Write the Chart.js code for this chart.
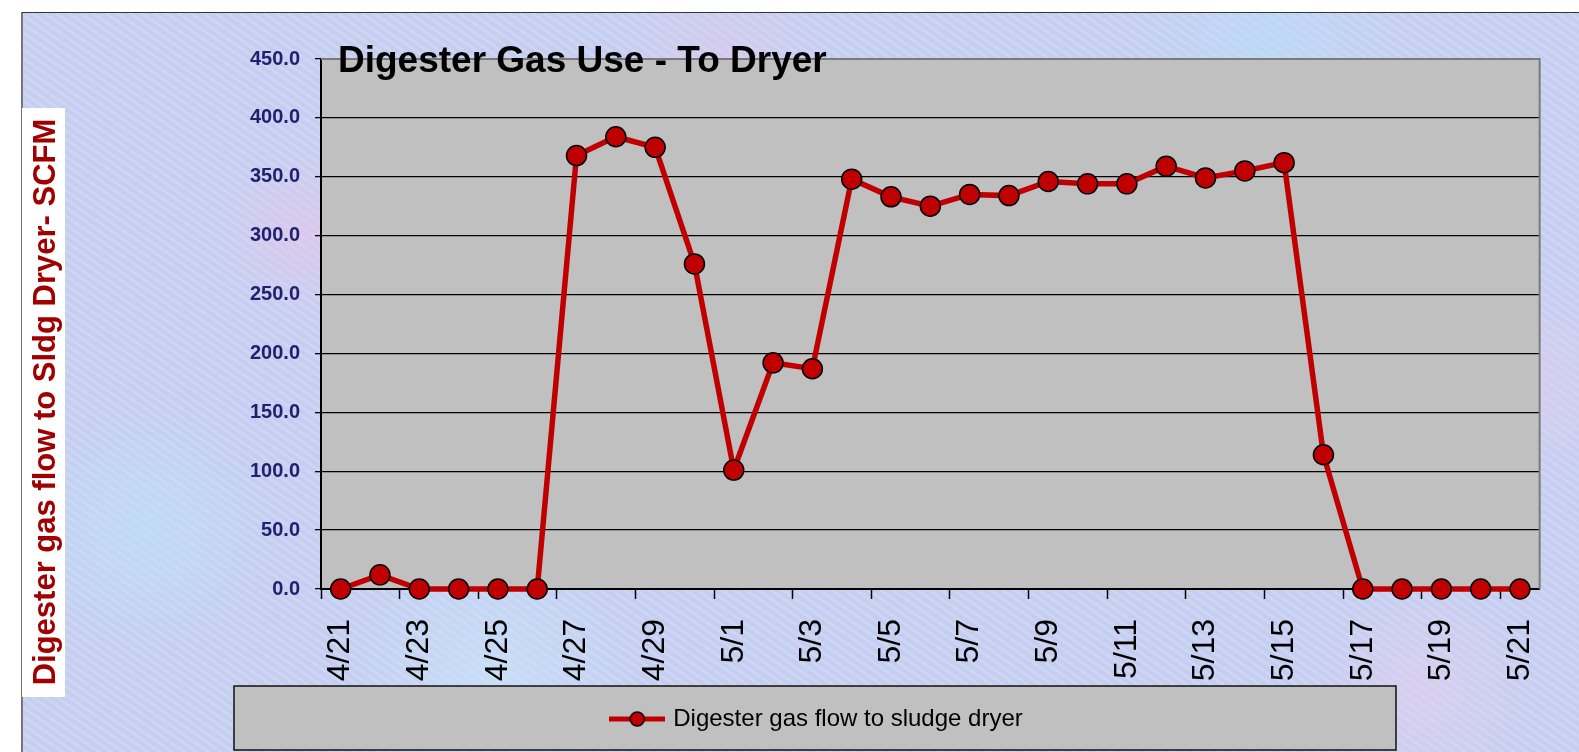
<!DOCTYPE html>
<html>
<head>
<meta charset="utf-8">
<title>Digester Gas Use - To Dryer</title>
<script src="https://cdn.jsdelivr.net/npm/chart.js@4.4.1/dist/chart.umd.min.js"></script>
<style>
  html, body { margin: 0; padding: 0; background: #fff; overflow: hidden; }
  #panel {
    position: absolute; left: 21px; top: 12px; right: 0; bottom: 0;
    border-top: 1px solid #333; border-left: 2px solid #777;
    background-color: #c6d1f2;
    background-image:
      radial-gradient(circle at 18% 30%, rgba(236, 196, 232, 0.55) 0, rgba(236, 196, 232, 0) 90px),
      radial-gradient(circle at 8% 70%, rgba(190, 226, 250, 0.6) 0, rgba(190, 226, 250, 0) 120px),
      radial-gradient(circle at 45% 8%, rgba(230, 200, 236, 0.5) 0, rgba(230, 200, 236, 0) 110px),
      radial-gradient(circle at 80% 5%, rgba(186, 222, 250, 0.6) 0, rgba(186, 222, 250, 0) 130px),
      radial-gradient(circle at 97% 50%, rgba(228, 204, 240, 0.5) 0, rgba(228, 204, 240, 0) 120px),
      radial-gradient(circle at 30% 90%, rgba(200, 232, 250, 0.6) 0, rgba(200, 232, 250, 0) 140px),
      radial-gradient(circle at 90% 92%, rgba(234, 206, 236, 0.5) 0, rgba(234, 206, 236, 0) 120px),
      repeating-linear-gradient(35deg, rgba(255,255,255,0.10) 0 3px, rgba(180,170,230,0.08) 3px 7px);
  }
  #chart { position: absolute; left: 0; top: 0; }
</style>
</head>
<body>
<div id="panel"></div>
<canvas id="chart" width="1579" height="752"></canvas>
<script>
// Chart data
const dates = ['4/21', '4/22', '4/23', '4/24', '4/25', '4/26', '4/27', '4/28', '4/29', '4/30',
               '5/1', '5/2', '5/3', '5/4', '5/5', '5/6', '5/7', '5/8', '5/9', '5/10',
               '5/11', '5/12', '5/13', '5/14', '5/15', '5/16', '5/17', '5/18', '5/19', '5/20', '5/21'];
const gasFlow = [0, 12, 0, 0, 0, 0, 368, 384, 375, 276,
                 101, 192, 187, 348, 333, 325, 335, 334, 346, 344,
                 344, 359, 349, 355, 362, 114, 0, 0, 0, 0, 0];
const yTicks = [0, 50, 100, 150, 200, 250, 300, 350, 400, 450];

const chartTitle = 'Digester Gas Use - To Dryer';
const yTitle = 'Digester gas flow to Sldg Dryer- SCFM';
const seriesName = 'Digester gas flow to sludge dryer';

const FONT = "'Liberation Sans', Arial, sans-serif";
const RED = '#c00000';

// Legend swatch: line with a marker in the middle
const swatch = document.createElement('canvas');
swatch.width = 56;
swatch.height = 20;
(function () {
    const c = swatch.getContext('2d');
    c.strokeStyle = RED;
    c.lineWidth = 5;
    c.beginPath();
    c.moveTo(0, 10);
    c.lineTo(56, 10);
    c.stroke();
    c.beginPath();
    c.arc(28, 10, 7, 0, Math.PI * 2);
    c.fillStyle = RED;
    c.fill();
    c.lineWidth = 1.5;
    c.strokeStyle = '#000';
    c.stroke();
})();

// Plot background, legend box, titles
const decor = {
    id: 'decor',
    beforeDraw(chart) {
        const ctx = chart.ctx;
        const a = chart.chartArea;
        ctx.save();
        ctx.fillStyle = '#c0c0c0';
        ctx.fillRect(a.left, a.top, a.right - a.left, a.bottom - a.top);

        // legend frame
        const hb = chart.legend.legendHitBoxes[0];
        if (hb) {
            const cx = hb.left + hb.width / 2;
            const cy = hb.top + hb.height / 2;
            ctx.fillStyle = '#c0c0c0';
            ctx.fillRect(cx - 584, cy - 33, 1162, 64);
            ctx.strokeStyle = '#111';
            ctx.lineWidth = 1.5;
            ctx.strokeRect(cx - 584, cy - 33, 1162, 64);
        }

        // y axis title on white box
        ctx.fillStyle = '#fff';
        ctx.fillRect(22, 108, 43, 589);
        ctx.translate(55, 402);
        ctx.rotate(-Math.PI / 2);
        ctx.fillStyle = '#a00000';
        ctx.font = 'bold 31px ' + FONT;
        ctx.textAlign = 'center';
        ctx.textBaseline = 'alphabetic';
        ctx.fillText(yTitle, 0, 0);
        ctx.restore();
    },
    beforeDatasetsDraw(chart) {
        const ctx = chart.ctx;
        const a = chart.chartArea;
        ctx.save();
        ctx.strokeStyle = '#7a7a7a';
        ctx.lineWidth = 2;
        ctx.beginPath();
        ctx.moveTo(a.left, a.top);
        ctx.lineTo(a.right, a.top);
        ctx.lineTo(a.right, a.bottom);
        ctx.stroke();
        ctx.restore();
    },
    afterDraw(chart) {
        const ctx = chart.ctx;
        const a = chart.chartArea;
        ctx.save();
        ctx.fillStyle = '#000';
        ctx.font = 'bold 37px ' + FONT;
        ctx.textAlign = 'left';
        ctx.textBaseline = 'alphabetic';
        ctx.fillText(chartTitle, a.left + 17, 72);
        ctx.restore();
    }
};

new Chart(document.getElementById('chart'), {
    type: 'line',
    data: {
        labels: dates,
        datasets: [{
            label: seriesName,
            data: gasFlow,
            borderColor: RED,
            borderWidth: 5.5,
            backgroundColor: RED,
            pointRadius: 10,
            pointHoverRadius: 10,
            pointBackgroundColor: RED,
            pointBorderColor: '#000',
            pointBorderWidth: 1.5,
            tension: 0,
            clip: false
        }]
    },
    options: {
        responsive: false,
        animation: false,
        events: [],
        layout: { padding: { left: 95, right: 38, top: 59, bottom: 11 } },
        scales: {
            x: {
                offset: true,
                grid: {
                    offset: true,
                    drawOnChartArea: false,
                    tickLength: 10,
                    tickWidth: 1.5,
                    tickColor: (c) => (c.index % 2 === 0 ? '#000' : 'rgba(0,0,0,0)')
                },
                border: { display: true, color: '#000', width: 2 },
                ticks: {
                    autoSkip: false,
                    minRotation: 90,
                    maxRotation: 90,
                    padding: 20,
                    color: '#000',
                    font: { family: FONT, size: 32 },
                    callback: (v, i) => (i % 2 === 0 ? dates[i] : '')
                },
                afterFit: (s) => { s.height = 108; }
            },
            y: {
                min: yTicks[0],
                max: yTicks[yTicks.length - 1],
                grid: {
                    color: (c) => (c.tick && c.tick.value === yTicks[yTicks.length - 1] ? '#7a7a7a' : '#000'),
                    lineWidth: 1.3,
                    tickLength: 6,
                    tickColor: '#000'
                },
                border: { display: true, color: '#000', width: 2 },
                ticks: {
                    stepSize: yTicks[1] - yTicks[0],
                    padding: 15,
                    color: '#20206e',
                    font: { family: FONT, size: 20, weight: 'bold' },
                    callback: (v) => v.toFixed(1)
                },
                afterFit: (s) => { s.width = 226; }
            }
        },
        plugins: {
            title: { display: false },
            tooltip: { enabled: false },
            legend: {
                position: 'bottom',
                labels: {
                    usePointStyle: true,
                    pointStyleWidth: 48,
                    padding: 10,
                    color: '#000',
                    font: { family: FONT, size: 24 },
                    generateLabels: (chart) => [{
                        text: seriesName,
                        pointStyle: swatch,
                        fillStyle: RED,
                        strokeStyle: '#000',
                        lineWidth: 0,
                        hidden: false,
                        datasetIndex: 0,
                        fontColor: '#000'
                    }]
                }
            }
        }
    },
    plugins: [decor]
});
</script>
</body>
</html>
